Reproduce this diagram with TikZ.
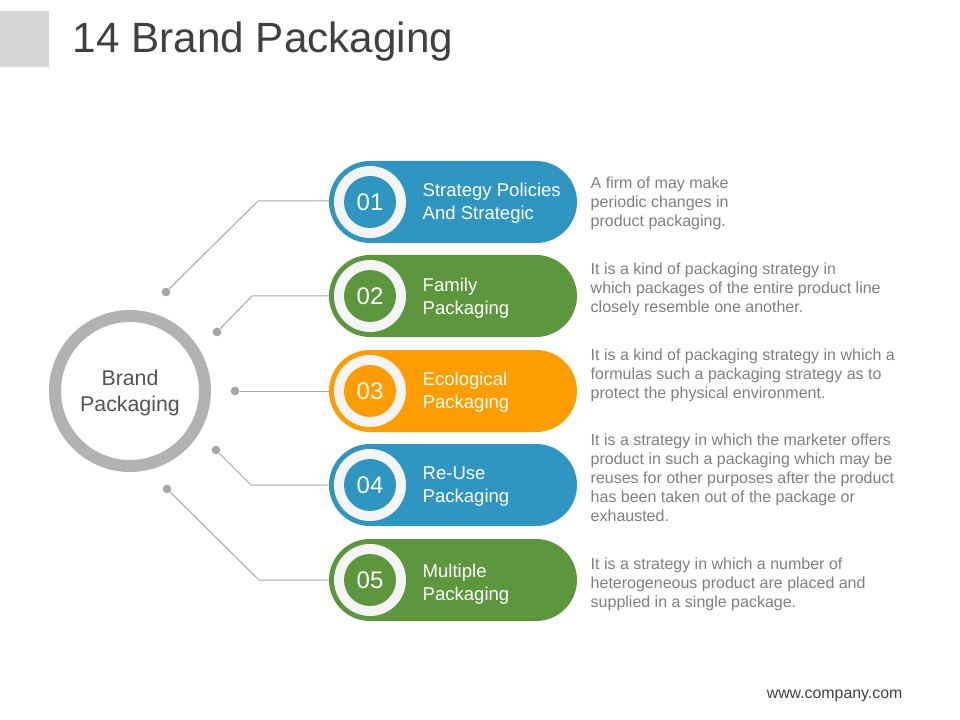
\documentclass[tikz,border=0pt]{standalone}
\usepackage{fontspec}
\setmainfont{Liberation Sans}
\usetikzlibrary{positioning, shapes.misc}
\definecolor{pillblue}{HTML}{2E96C1}
\definecolor{pillgreen}{HTML}{5C973E}
\definecolor{pillorange}{HTML}{FD9D00}
\definecolor{linegray}{HTML}{A6A6A6}
\definecolor{ringgray}{HTML}{B2B2B2}
\definecolor{descgray}{HTML}{7F7F7F}
\definecolor{titlegray}{HTML}{404040}
\tikzset{
    pill/.style={rounded rectangle, minimum width=186pt, minimum height=61.5pt, inner sep=0pt, outer sep=0pt},
    ring/.style={circle, fill=white!96!black, minimum size=54pt, inner sep=0pt},
    num/.style={circle, minimum size=39pt, inner sep=0pt, text=white, font=\fontsize{18}{18}\selectfont},
    pilltext/.style={anchor=west, align=left, text=white, font=\fontsize{13.9}{17.2}\selectfont},
    desc/.style={anchor=west, align=left, text=descgray, font=\fontsize{12}{14.3}\selectfont},
    dot/.style={circle, fill=linegray, minimum size=6.5pt, inner sep=0pt},
    leader/.style={draw=linegray, line width=0.75pt}
}

\begin{document}
\begin{tikzpicture}[x=0.75pt, y=-0.75pt]
    \useasboundingbox (0,0) rectangle (960,720);
    % title
    \node[fill=black!16, minimum width=36.75pt, minimum height=42pt, inner sep=0pt] (tab) at (24.5,39) { };
    \node[anchor=west, text=titlegray, font=\fontsize{31.7}{32}\selectfont] (title) at (68,42) {14 Brand Packaging};
    % hub
    \node[circle, draw=ringgray, line width=9pt, minimum size=112.5pt, inner sep=0pt] (hub) at (130,391) { };
    \node[align=center, text=titlegray!90, font=\fontsize{16}{18.8}\selectfont] (hublabel) at (130,393) {Brand\\Packaging};
    % pills
    \node[pill, fill=pillblue] (p1) at (453,202) { };
    \node[pill, fill=pillgreen] (p2) at (453,296) { };
    \node[pill, fill=pillorange] (p3) at (453,391) { };
    \node[pill, fill=pillblue] (p4) at (453,485) { };
    \node[pill, fill=pillgreen] (p5) at (453,580) { };
    \node[ring] (r1) at (370,202) { };
    \node[ring] (r2) at (370,296) { };
    \node[ring] (r3) at (370,391) { };
    \node[ring] (r4) at (370,485) { };
    \node[ring] (r5) at (370,580) { };
    \node[num, fill=pillblue] (n1) at (r1) {01};
    \node[num, fill=pillgreen] (n2) at (r2) {02};
    \node[num, fill=pillorange] (n3) at (r3) {03};
    \node[num, fill=pillblue] (n4) at (r4) {04};
    \node[num, fill=pillgreen] (n5) at (r5) {05};
    \node[pilltext] (t1) at (418,203.5) {Strategy Policies\\And Strategic};
    \node[pilltext] (t2) at (418,298.5) {Family\\Packaging};
    \node[pilltext] (t3) at (418,392.5) {Ecological\\Packaging};
    \node[pilltext] (t4) at (418,487) {Re-Use\\Packaging};
    \node[pilltext] (t5) at (418,584.5) {Multiple\\Packaging};
    % descriptions
    \node[desc] (d1) at (586,203.5) {A firm of may make\\periodic changes in\\product packaging.};
    \node[desc] (d2) at (586,289.5) {It is a kind of packaging strategy in\\which packages of the entire product line\\closely resemble one another.};
    \node[desc] (d3) at (586,375) {It is a kind of packaging strategy in which a\\formulas such a packaging strategy as to\\protect the physical environment.};
    \node[desc] (d4) at (586,478) {It is a strategy in which the marketer offers\\product in such a packaging which may be\\reuses for other purposes after the product\\has been taken out of the package or\\exhausted.};
    \node[desc] (d5) at (586,584.5) {It is a strategy in which a number of\\heterogeneous product are placed and\\supplied in a single package.};
    % leaders
    \node[dot] (a1) at (166,292) { };
    \node[dot] (a2) at (217,332) { };
    \node[dot] (a3) at (235,391) { };
    \node[dot] (a4) at (216,450) { };
    \node[dot] (a5) at (167,489) { };
    \draw[leader] (a1) -- (258,201) -- (p1.west |- 0,201);
    \draw[leader] (a2) -- (252,296) -- (p2.west);
    \draw[leader] (a3) -- (p3.west);
    \draw[leader] (a4) -- (251,485) -- (p4.west);
    \draw[leader] (a5) -- (259,580) -- (p5.west);
    \node[anchor=east, text=titlegray, font=\fontsize{11.9}{14}\selectfont] (web) at (907,696) {www.company.com};
\end{tikzpicture}
\end{document}
